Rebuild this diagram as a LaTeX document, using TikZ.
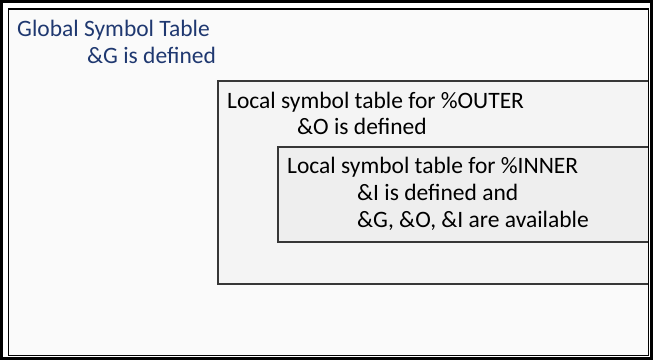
\documentclass[tikz,border=0pt]{standalone}
\usepackage{fontspec}
\setmainfont{Carlito}
\definecolor{titleblue}{RGB}{31,56,112}
\definecolor{pagefill}{RGB}{250,250,250}
\definecolor{outerfill}{RGB}{244,244,244}
\definecolor{innerfill}{RGB}{238,238,238}
\definecolor{boxline}{RGB}{55,55,55}
\begin{document}
\begin{tikzpicture}[x=1pt,y=-1pt,
  frame/.style={draw=black,line width=3pt},
  page/.style={draw=black,line width=1.2pt},
  table box/.style={draw=boxline,line width=1.5pt},
  label text/.style={anchor=base west,inner sep=0pt,text=black,
    font=\fontsize{23.5}{28}\selectfont}]

  \useasboundingbox (0,0) rectangle (653,360);
  \fill[white] (0,0) rectangle (653,360);
  \draw[frame] (1.5,1.5) rectangle (651.5,358.5);
  \draw[page,fill=pagefill] (8.5,9) rectangle (648.5,355.5);
  \draw[table box,fill=outerfill] (218,81) rectangle (648.5,284);
  \draw[table box,fill=innerfill] (278,147) rectangle (648.5,242);
  \draw[page] (648.5,9) -- (648.5,355.5);

  \node[label text,text=titleblue] (global) at (17,36) {Global Symbol Table};
  \node[label text,text=titleblue] (gdef) at (87,63) {\&G is defined};
  \node[label text] (outer) at (227,108) {Local symbol table for \%OUTER};
  \node[label text] (odef) at (297,134) {\&O is defined};
  \node[label text] (inner) at (287,173) {Local symbol table for \%INNER};
  \node[label text] (idef) at (357,200) {\&I is defined and};
  \node[label text] (avail) at (357,227) {\&G, \&O, \&I are available};
\end{tikzpicture}
\end{document}
